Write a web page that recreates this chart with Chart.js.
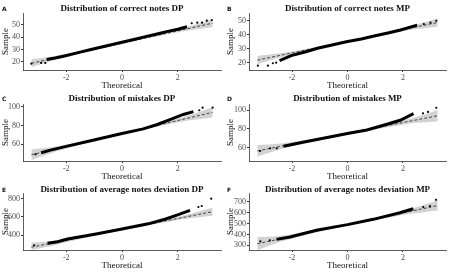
<!DOCTYPE html>
<html>
<head>
<meta charset="utf-8">
<script src="https://cdn.jsdelivr.net/npm/chart.js@4"></script>
<style>
  body { margin: 0; width: 450px; height: 273px; background: #fff; position: relative; overflow: hidden; font-family: "Liberation Serif", serif; }
  .panel { position: absolute; width: 225px; height: 91px; }
  .panel canvas { position: absolute; left: 0; top: 0; }
  .ttl { position: absolute; font-weight: bold; font-size: 9px; white-space: nowrap; transform: translate(-50%, -50%); color: #111; }
  .tag { position: absolute; left: 2px; font: bold 6px "DejaVu Sans", sans-serif; transform: translateY(-50%); color: #111; }
</style>
</head>
<body>
<script>
// Shared x axis (theoretical quantiles)
const xTicks = [-2, 0, 2];
const bandX = [-3.25, -2.5, -2, -1, 0, 1, 2, 2.5, 3.25];
const refX = [-3.25, 3.25];

// A - correct notes DP
const lineA_x = [-2.7, -2.4, -2.1, -1.5, -1.15, -0.5, 0, 0.5, 0.77, 1.37, 1.6, 2.0, 2.33];
const lineA_y = [21.8, 23.0, 24.5, 27.8, 29.8, 33.2, 35.9, 38.6, 40.1, 43.3, 44.6, 46.5, 48.6];
const dotsA_x = [-3.25, -2.9, -2.75, 2.5, 2.7, 2.87, 3.04, 3.22];
const dotsA_y = [18.4, 19.0, 19.0, 51.4, 51.9, 51.9, 53.5, 54.0];
const refA = [18.7, 51.5];
const bandLoA = [15.5, 20.7, 23.8, 29.4, 34.5, 39.5, 44.0, 45.9, 48.3];
const bandHiA = [21.9, 24.3, 26.2, 30.8, 35.7, 40.9, 46.4, 49.5, 54.7];
const yTicksA = [20, 30, 40, 50];

// B - correct notes MP
const lineB_x = [-2.45, -2.03, -1.5, -1.08, -0.04, 0.5, 0.96, 1.5, 1.91, 2.51];
const lineB_y = [21.6, 25.2, 28.0, 30.4, 35.1, 37.0, 39.1, 41.5, 43.4, 46.9];
const dotsB_x = [-3.23, -2.87, -2.69, -2.57, 2.75, 2.99, 3.2];
const dotsB_y = [18.1, 18.1, 19.8, 20.2, 47.7, 48.6, 50.0];
const refB = [22.0, 48.8];
const bandLoB = [19.0, 23.5, 26.0, 30.7, 34.9, 38.9, 42.6, 44.1, 45.8];
const bandHiB = [25.0, 26.7, 28.2, 31.9, 35.9, 40.1, 44.8, 47.3, 51.8];
const yTicksB = [20, 30, 40, 50];

// C - mistakes DP
const lineC_x = [-2.9, -2.6, -2.0, -1.16, 0, 0.76, 1.24, 1.72, 2.2, 2.56];
const lineC_y = [51.0, 53.5, 57.8, 63.5, 71.5, 76.5, 81.0, 86.5, 92.0, 95.0];
const dotsC_x = [-3.1, 2.77, 2.89, 3.25];
const dotsC_y = [49.3, 96.5, 99.3, 99.3];
const refC = [48.75, 94.25];
const bandLoC = [43.3, 51.0, 55.5, 63.3, 70.5, 77.3, 83.5, 86.0, 88.8];
const bandHiC = [54.3, 57.0, 59.5, 65.7, 72.5, 79.7, 87.5, 92.0, 99.8];
const yTicksC = [60, 80, 100];

// D - mistakes MP
const lineD_x = [-2.31, -1.47, -0.87, 0, 0.7, 1.3, 1.9, 2.38];
const lineD_y = [61.5, 66.5, 70.0, 75.0, 78.8, 83.8, 89.1, 96.1];
const dotsD_x = [-3.15, -2.79, -2.55, 2.72, 2.9, 3.2];
const dotsD_y = [56.5, 59.4, 59.4, 96.5, 98.0, 102.4];
const refD = [56.6, 93.9];
const bandLoD = [50.6, 57.7, 61.6, 68.2, 74.3, 79.7, 84.5, 86.4, 87.9];
const bandHiD = [62.6, 64.1, 66.0, 70.8, 76.3, 82.3, 88.9, 92.8, 99.9];
const yTicksD = [60, 80, 100];

// E - average notes deviation DP
const lineE_x = [-2.67, -2.31, -1.95, -0.98, 0, 0.94, 1.54, 2.02, 2.44];
const lineE_y = [312, 330, 360, 412, 468, 525, 575, 625, 673];
const dotsE_x = [-3.15, 2.74, 2.86, 3.2];
const dotsE_y = [291, 709, 720, 800];
const refE = [270, 658];
const bandLoE = [238, 286, 324, 392, 454, 512, 566, 588, 612];
const bandHiE = [320, 336, 358, 412, 470, 532, 600, 638, 700];
const yTicksE = [400, 600, 800];

// F - average notes deviation MP
const lineF_x = [-2.56, -2.07, -1.12, 0, 0.93, 1.89, 2.37];
const lineF_y = [355, 377, 439, 491, 540, 601, 638];
const dotsF_x = [-3.14, -2.8, 2.73, 2.97, 3.19];
const dotsF_y = [337, 346, 654, 663, 720];
const refF = [315, 667];
const bandLoF = [256, 327, 364, 426, 482, 534, 580, 598, 622];
const bandHiF = [376, 384, 402, 448, 500, 556, 618, 654, 716];
const yTicksF = [300, 400, 500, 600, 700];

const titles = [
  "Distribution of correct notes DP",
  "Distribution of correct notes MP",
  "Distribution of mistakes DP",
  "Distribution of mistakes MP",
  "Distribution of average notes deviation DP",
  "Distribution of average notes deviation MP"
];
const tags = ["A", "B", "C", "D", "E", "F"];

const pts = (xs, ys) => xs.map((x, i) => ({ x: x, y: ys[i] }));

const panels = [
  { line: pts(lineA_x, lineA_y), dots: pts(dotsA_x, dotsA_y), ref: pts(refX, refA), lo: pts(bandX, bandLoA), hi: pts(bandX, bandHiA), yTicks: yTicksA, yMin: 13.2, yMax: 59.8 },
  { line: pts(lineB_x, lineB_y), dots: pts(dotsB_x, dotsB_y), ref: pts(refX, refB), lo: pts(bandX, bandLoB), hi: pts(bandX, bandHiB), yTicks: yTicksB, yMin: 15, yMax: 55.5 },
  { line: pts(lineC_x, lineC_y), dots: pts(dotsC_x, dotsC_y), ref: pts(refX, refC), lo: pts(bandX, bandLoC), hi: pts(bandX, bandHiC), yTicks: yTicksC, yMin: 42.1, yMax: 103.2 },
  { line: pts(lineD_x, lineD_y), dots: pts(dotsD_x, dotsD_y), ref: pts(refX, refD), lo: pts(bandX, bandLoD), hi: pts(bandX, bandHiD), yTicks: yTicksD, yMin: 45.9, yMax: 106.4 },
  { line: pts(lineE_x, lineE_y), dots: pts(dotsE_x, dotsE_y), ref: pts(refX, refE), lo: pts(bandX, bandLoE), hi: pts(bandX, bandHiE), yTicks: yTicksE, yMin: 239, yMax: 862 },
  { line: pts(lineF_x, lineF_y), dots: pts(dotsF_x, dotsF_y), ref: pts(refX, refF), lo: pts(bandX, bandLoF), hi: pts(bandX, bandHiF), yTicks: yTicksF, yMin: 257, yMax: 783 }
];

// layout of the grid
const rowTops = [0, 91, 180];
const titleY = [8, 6.5, 9];
const FONT = "'Liberation Serif', serif";
const axisColor = "#333";

panels.forEach((p, i) => {
  const col = i % 2, row = Math.floor(i / 2);
  const leftW = col === 0 ? 23 : 24;

  const div = document.createElement("div");
  div.className = "panel";
  div.style.left = (col * 225) + "px";
  div.style.top = rowTops[row] + "px";
  const canvas = document.createElement("canvas");
  canvas.width = 225;
  canvas.height = 91;
  div.appendChild(canvas);

  const t = document.createElement("div");
  t.className = "ttl";
  t.textContent = titles[i];
  t.style.left = ((leftW + 221) / 2) + "px";
  t.style.top = titleY[row] + "px";
  div.appendChild(t);

  const g = document.createElement("div");
  g.className = "tag";
  g.textContent = tags[i];
  g.style.top = titleY[row] + "px";
  div.appendChild(g);

  document.body.appendChild(div);

  new Chart(canvas.getContext("2d"), {
    type: "scatter",
    data: {
      datasets: [
        { data: p.lo, order: 5, showLine: true, pointRadius: 0, borderWidth: 0, borderColor: "rgba(0,0,0,0)", fill: false, tension: 0.3 },
        { data: p.hi, order: 4, showLine: true, pointRadius: 0, borderWidth: 0, borderColor: "rgba(0,0,0,0)", fill: "-1", backgroundColor: "rgba(205,205,205,0.9)", tension: 0.3 },
        { data: p.ref, order: 3, showLine: true, pointRadius: 0, borderWidth: 0.8, borderColor: "#222", borderDash: [3, 2] },
        { data: p.line, order: 2, showLine: true, pointRadius: 0, borderWidth: 3, borderColor: "#000" },
        { data: p.dots, order: 1, showLine: false, pointRadius: 1.1, pointBackgroundColor: "#000", pointBorderWidth: 0 }
      ]
    },
    options: {
      responsive: false,
      animation: false,
      devicePixelRatio: 1,
      layout: { padding: { top: 13, right: 4, left: 0, bottom: 0 } },
      plugins: { legend: { display: false }, tooltip: { enabled: false } },
      scales: {
        x: {
          type: "linear", min: -3.55, max: 3.55,
          afterBuildTicks: s => { s.ticks = xTicks.map(v => ({ value: v })); },
          afterFit: s => { s.height = 21; },
          ticks: { font: { family: FONT, size: 8 }, color: "#4d4d4d", padding: 1, maxRotation: 0,
                   callback: v => String(v) },
          grid: { drawOnChartArea: false, tickLength: 2, color: axisColor },
          border: { color: axisColor, width: 0.8 },
          title: { display: true, text: "Theoretical", font: { family: FONT, size: 9 }, color: "#111", padding: 0 }
        },
        y: {
          min: p.yMin, max: p.yMax,
          afterBuildTicks: s => { s.ticks = p.yTicks.map(v => ({ value: v })); },
          afterFit: s => { s.width = leftW; },
          ticks: { font: { family: FONT, size: 8 }, color: "#4d4d4d", padding: 1,
                   callback: v => String(v) },
          grid: { drawOnChartArea: false, tickLength: 2, color: axisColor },
          border: { color: axisColor, width: 0.8 },
          title: { display: true, text: "Sample", font: { family: FONT, size: 9 }, color: "#111", padding: 0 }
        }
      }
    }
  });
});
</script>
</body>
</html>
